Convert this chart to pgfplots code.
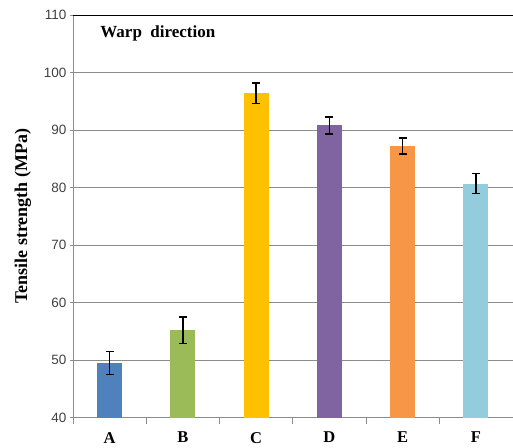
\documentclass[border=0pt]{standalone}
\usepackage{fontspec}
\setmainfont{Liberation Serif}
\newfontfamily\tickfont{Liberation Sans}
\usepackage{pgfplots}
\pgfplotsset{compat=1.18}
\definecolor{cA}{HTML}{4F81BD}
\definecolor{cB}{HTML}{9BBB59}
\definecolor{cC}{HTML}{FFC000}
\definecolor{cD}{HTML}{8064A2}
\definecolor{cE}{HTML}{F79646}
\definecolor{cF}{HTML}{93CDDD}
\definecolor{gridc}{HTML}{8C8C8C}
\definecolor{tickc}{HTML}{404040}
\begin{document}
\begin{tikzpicture}
\begin{axis}[
  name=ax,
  scale only axis,
  width=440pt, height=403pt,
  xmin=-0.5, xmax=5.5,
  ymin=40, ymax=110,
  ytick={40,50,...,110},
  xtick={0,...,5},
  xticklabels={A,B,C,D,E,F},
  minor xtick={-0.5,0.5,1.5,2.5,3.5,4.5},
  major x tick style={draw=none},
  minor x tick style={draw=gridc, line width=0.8pt},
  minor tick length=6pt,
  major tick length=6pt,
  y tick style={draw=gridc, line width=0.8pt},
  tick align=outside,
  tick pos=left,
  axis lines=left,
  axis line style={-, draw=gridc, line width=0.8pt},
  ymajorgrids,
  grid style={draw=gridc, line width=0.8pt},
  /pgf/number format/assume math mode=true,
  yticklabel style={font=\tickfont\fontsize{13.5}{14}\selectfont, text=tickc},
  xticklabel style={font=\bfseries\fontsize{16.5}{17}\selectfont, yshift=-5pt},
  ylabel={Tensile strength (MPa)},
  ylabel style={font=\bfseries\fontsize{18}{19}\selectfont, yshift=6pt},
  ybar, bar width=25pt, bar shift=0pt,
  error bars/y dir=both, error bars/y explicit,
  error bars/error bar style={black, line width=1.5pt},
  error bars/error mark options={rotate=90, mark size=4pt, line width=1.5pt, black},
  clip=false,
]
\addplot[fill=cA, draw=none] coordinates {(0,49.5) +- (0,2.0)};
\addplot[fill=cB, draw=none] coordinates {(1,55.2) +- (0,2.3)};
\addplot[fill=cC, draw=none] coordinates {(2,96.4) +- (0,1.8)};
\addplot[fill=cD, draw=none] coordinates {(3,90.8) +- (0,1.5)};
\addplot[fill=cE, draw=none] coordinates {(4,87.2) +- (0,1.4)};
\addplot[fill=cF, draw=none] coordinates {(5,80.7) +- (0,1.75)};
\draw[black, line width=0.9pt] (rel axis cs:0,1) -- (rel axis cs:1,1);
\node[anchor=west, font=\bfseries\fontsize{17}{18}\selectfont] at ([xshift=24pt,yshift=-18pt]rel axis cs:0,1) {Warp\ \ direction};
\end{axis}
\path[use as bounding box] ([xshift=-73pt,yshift=-30pt]ax.south west) rectangle ([yshift=15pt]ax.north east);
\end{tikzpicture}
\end{document}
